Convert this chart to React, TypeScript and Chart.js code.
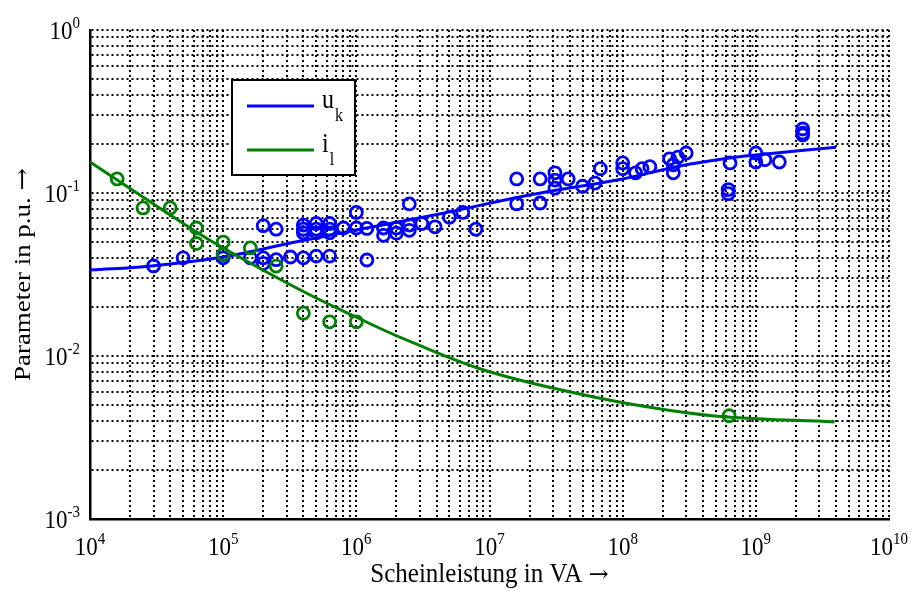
import React, { useEffect, useRef } from 'react';
import { Chart, registerables } from 'chart.js';

Chart.register(...registerables);

const FONT = '"Liberation Serif", "Times New Roman", serif';
const ARROW_FONT = '"DejaVu Serif", serif';
const BLUE = '#0000ff';
const GREEN = '#008000';

// Axis decades (tick labels are 10^n)
const xDecades = [4, 5, 6, 7, 8, 9, 10];
const yDecades = [-3, -2, -1, 0];

// Fitted curve u_k
const ukFitX = [1e4, 2.9e4, 1e5, 3.2e5, 1e6, 4.2e6, 2e7, 1e8, 2.7e8, 6.4e8, 1e9, 4e9];
const ukFitY = [0.0337, 0.0357, 0.0405, 0.0493, 0.0593, 0.0743, 0.0972, 0.122, 0.1465, 0.164, 0.171, 0.191];

// Fitted curve i_l
const ilFitX = [1e4, 1.6e4, 6.3e4, 1e5, 3.8e5, 1e6, 2.4e6, 1e7, 6.8e7, 2.15e8, 6.1e8, 3.9e9];
const ilFitY = [0.155, 0.12, 0.0576, 0.046, 0.0254, 0.0173, 0.0125, 0.008, 0.0055, 0.00467, 0.00423, 0.00394];

// Measured u_k samples [S in VA, u_k in p.u.]
const ukSamples: [number, number][] = [
  [3e4, 0.0357], [5e4, 0.04], [1e5, 0.042], [1e5, 0.04], [1.6e5, 0.04],
  [2e5, 0.063], [2e5, 0.04], [2e5, 0.037], [2.5e5, 0.06], [2.5e5, 0.039],
  [3.2e5, 0.0405], [4e5, 0.04], [5e5, 0.041], [6.3e5, 0.041],
  [4e5, 0.0636], [4e5, 0.06], [4e5, 0.057], [5e5, 0.065], [5e5, 0.06], [5e5, 0.057],
  [6.3e5, 0.065], [6.3e5, 0.06], [6.3e5, 0.057], [8e5, 0.061], [1e6, 0.076], [1e6, 0.061],
  [1.2e6, 0.0606], [1.2e6, 0.0388], [1.6e6, 0.061], [1.6e6, 0.055], [2e6, 0.061], [2e6, 0.0567],
  [2.5e6, 0.0857], [2.5e6, 0.0636], [2.5e6, 0.059], [3.1e6, 0.065], [3.9e6, 0.062],
  [5e6, 0.071], [6.3e6, 0.076], [7.9e6, 0.06],
  [1.6e7, 0.122], [1.6e7, 0.0857], [2.4e7, 0.122], [2.4e7, 0.0868],
  [3.1e7, 0.133], [3.1e7, 0.12], [3.1e7, 0.107], [3.9e7, 0.122], [5e7, 0.11], [6.2e7, 0.115],
  [6.8e7, 0.141], [1e8, 0.153], [1e8, 0.141], [1.25e8, 0.133], [1.4e8, 0.141], [1.6e8, 0.145],
  [2.25e8, 0.162], [2.4e8, 0.149], [2.4e8, 0.133], [2.6e8, 0.166], [3e8, 0.176],
  [6.2e8, 0.105], [6.2e8, 0.099], [6.4e8, 0.153],
  [1e9, 0.176], [1e9, 0.155], [1.17e9, 0.16], [1.5e9, 0.155],
  [2.25e9, 0.247], [2.25e9, 0.233], [2.25e9, 0.227],
];

// Measured i_l samples
const ilSamples: [number, number][] = [
  [1.6e4, 0.122], [2.5e4, 0.081], [4e4, 0.081], [6.3e4, 0.061], [6.3e4, 0.049],
  [1e5, 0.05], [1e5, 0.042], [1.6e5, 0.046], [2.5e5, 0.0356],
  [4e5, 0.0183], [6.3e5, 0.0162], [1e6, 0.0162], [6.3e8, 0.0043],
];

const xTitle = 'Scheinleistung in VA';
const yTitle = 'Parameter in p.u.';
const ARROW = '\u2192';
const legendItems = [
  { main: 'u', sub: 'k', color: BLUE },
  { main: 'i', sub: 'l', color: GREEN },
];

const STRETCH = 1.12; // text in the reference is slightly taller than wide

function logTicks(decades: number[]) {
  const out: { value: number }[] = [];
  for (let i = 0; i < decades.length; i++) {
    const e = decades[i];
    if (i === decades.length - 1) {
      out.push({ value: Math.pow(10, e) });
    } else {
      for (let m = 1; m <= 9; m++) out.push({ value: m * Math.pow(10, e) });
    }
  }
  return out;
}

function txt(ctx: CanvasRenderingContext2D, s: string, x: number, y: number, font: string, sy = STRETCH) {
  ctx.save();
  ctx.font = font;
  ctx.translate(x, y);
  ctx.scale(1, sy);
  ctx.fillText(s, 0, 0);
  ctx.restore();
}

function width(ctx: CanvasRenderingContext2D, s: string, font: string) {
  ctx.font = font;
  return ctx.measureText(s).width;
}

const textPlugin = {
  id: 'customText',
  afterDraw(chart: any) {
    const ctx: CanvasRenderingContext2D = chart.ctx;
    const ca = chart.chartArea;
    const xs = chart.scales.x;
    const ys = chart.scales.y;
    const BF = `23px ${FONT}`;
    const SF = `15px ${FONT}`;
    ctx.save();
    ctx.fillStyle = '#000';
    ctx.textAlign = 'left';
    ctx.textBaseline = 'alphabetic';

    // x tick labels
    for (const e of xDecades) {
      const px = xs.getPixelForValue(Math.pow(10, e));
      const wb = width(ctx, '10', BF);
      const ws = width(ctx, String(e), SF);
      const left = px - (wb + ws) / 2;
      const base = ca.bottom + 36;
      txt(ctx, '10', left, base, BF);
      txt(ctx, String(e), left + wb, base - 11, SF);
    }
    // y tick labels
    for (const e of yDecades) {
      const py = ys.getPixelForValue(Math.pow(10, e));
      const wb = width(ctx, '10', BF);
      const ws = width(ctx, String(e), SF);
      const right = ca.left - 10;
      const left = right - wb - ws;
      const base = py + 9;
      txt(ctx, '10', left, base, BF);
      txt(ctx, String(e), left + wb, base - 11, SF);
    }

    // x axis title
    {
      const TF = `25px ${FONT}`;
      const AF = `24px ${ARROW_FONT}`;
      const w1 = width(ctx, xTitle + ' ', TF);
      const w2 = width(ctx, ARROW, AF);
      const left = (ca.left + ca.right) / 2 - (w1 + w2) / 2;
      const base = ca.bottom + 63;
      txt(ctx, xTitle + ' ', left, base, TF, 1.06);
      txt(ctx, ARROW, left + w1, base, AF, 1.0);
    }
    // y axis title (rotated)
    {
      const TF = `24px ${FONT}`;
      const AF = `24px ${ARROW_FONT}`;
      const w1 = width(ctx, yTitle + ' ', TF);
      const w2 = width(ctx, ARROW, AF);
      ctx.save();
      ctx.translate(30, (ca.top + ca.bottom) / 2);
      ctx.rotate(-Math.PI / 2);
      ctx.scale(STRETCH, 1);
      const left = -(w1 + w2) / 2;
      ctx.font = TF;
      ctx.fillText(yTitle + ' ', left, 0);
      ctx.font = AF;
      ctx.fillText(ARROW, left + w1, 0);
      ctx.restore();
    }

    // legend
    const lx = ca.left + 142;
    const ly = ca.top + 50;
    const lw = 123;
    const lh = 95;
    ctx.fillStyle = '#fff';
    ctx.fillRect(lx, ly, lw, lh);
    ctx.lineWidth = 2;
    ctx.strokeStyle = '#000';
    ctx.strokeRect(lx, ly, lw, lh);
    legendItems.forEach((it, i) => {
      const yy = ly + 26 + i * 44;
      ctx.strokeStyle = it.color;
      ctx.lineWidth = 3;
      ctx.beginPath();
      ctx.moveTo(lx + 15, yy);
      ctx.lineTo(lx + 82, yy);
      ctx.stroke();
      ctx.fillStyle = '#000';
      ctx.textAlign = 'left';
      const MF = `24px ${FONT}`;
      const w = width(ctx, it.main, MF);
      txt(ctx, it.main, lx + 90, yy + 2, MF);
      txt(ctx, it.sub, lx + 91 + w, yy + 15, `16px ${FONT}`);
    });
    ctx.restore();
  },
};

export default function App() {
  const ref = useRef<HTMLCanvasElement>(null);
  useEffect(() => {
    const gridCommon = {
      color: '#000',
      lineWidth: 2,
      drawTicks: false,
    };
    const borderCommon = { display: true, color: '#000', width: 2.5, dash: [2, 3] };
    const chart = new Chart(ref.current as HTMLCanvasElement, {
      type: 'scatter',
      data: {
        datasets: [
          {
            label: 'u_k fit',
            data: ukFitX.map((x, i) => ({ x, y: ukFitY[i] })),
            showLine: true,
            borderColor: BLUE,
            borderWidth: 3,
            pointRadius: 0,
            tension: 0.4,
            order: 3,
          },
          {
            label: 'u_k',
            data: ukSamples.map(([x, y]) => ({ x, y })),
            showLine: false,
            borderColor: BLUE,
            backgroundColor: 'rgba(0,0,0,0)',
            pointRadius: 6,
            pointBorderWidth: 2.8,
            order: 2,
          },
          {
            label: 'i_l fit',
            data: ilFitX.map((x, i) => ({ x, y: ilFitY[i] })),
            showLine: true,
            borderColor: GREEN,
            borderWidth: 3,
            pointRadius: 0,
            tension: 0.4,
            order: 1,
          },
          {
            label: 'i_l',
            data: ilSamples.map(([x, y]) => ({ x, y })),
            showLine: false,
            borderColor: GREEN,
            backgroundColor: 'rgba(0,0,0,0)',
            pointRadius: 6,
            pointBorderWidth: 2.8,
            order: 0,
          },
        ],
      } as any,
      options: {
        animation: false,
        responsive: false,
        devicePixelRatio: 1,
        layout: { padding: { left: 90, top: 30, right: 22, bottom: 70 } },
        plugins: { legend: { display: false }, tooltip: { enabled: false } },
        scales: {
          x: {
            type: 'logarithmic',
            min: 1e4,
            max: 1e10,
            afterBuildTicks: (s: any) => {
              s.ticks = logTicks(xDecades);
            },
            ticks: { display: false },
            grid: gridCommon,
            border: borderCommon,
          },
          y: {
            type: 'logarithmic',
            min: 1e-3,
            max: 1,
            afterBuildTicks: (s: any) => {
              s.ticks = logTicks(yDecades);
            },
            ticks: { display: false },
            grid: gridCommon,
            border: borderCommon,
          },
        },
      } as any,
      plugins: [textPlugin],
    });
    return () => chart.destroy();
  }, []);
  return (
    <div style={{ position: 'fixed', left: 0, top: 0, width: 911, height: 589, background: '#fff' }}>
      <canvas ref={ref} width={911} height={589} style={{ display: 'block', width: 911, height: 589 }} />
    </div>
  );
}
